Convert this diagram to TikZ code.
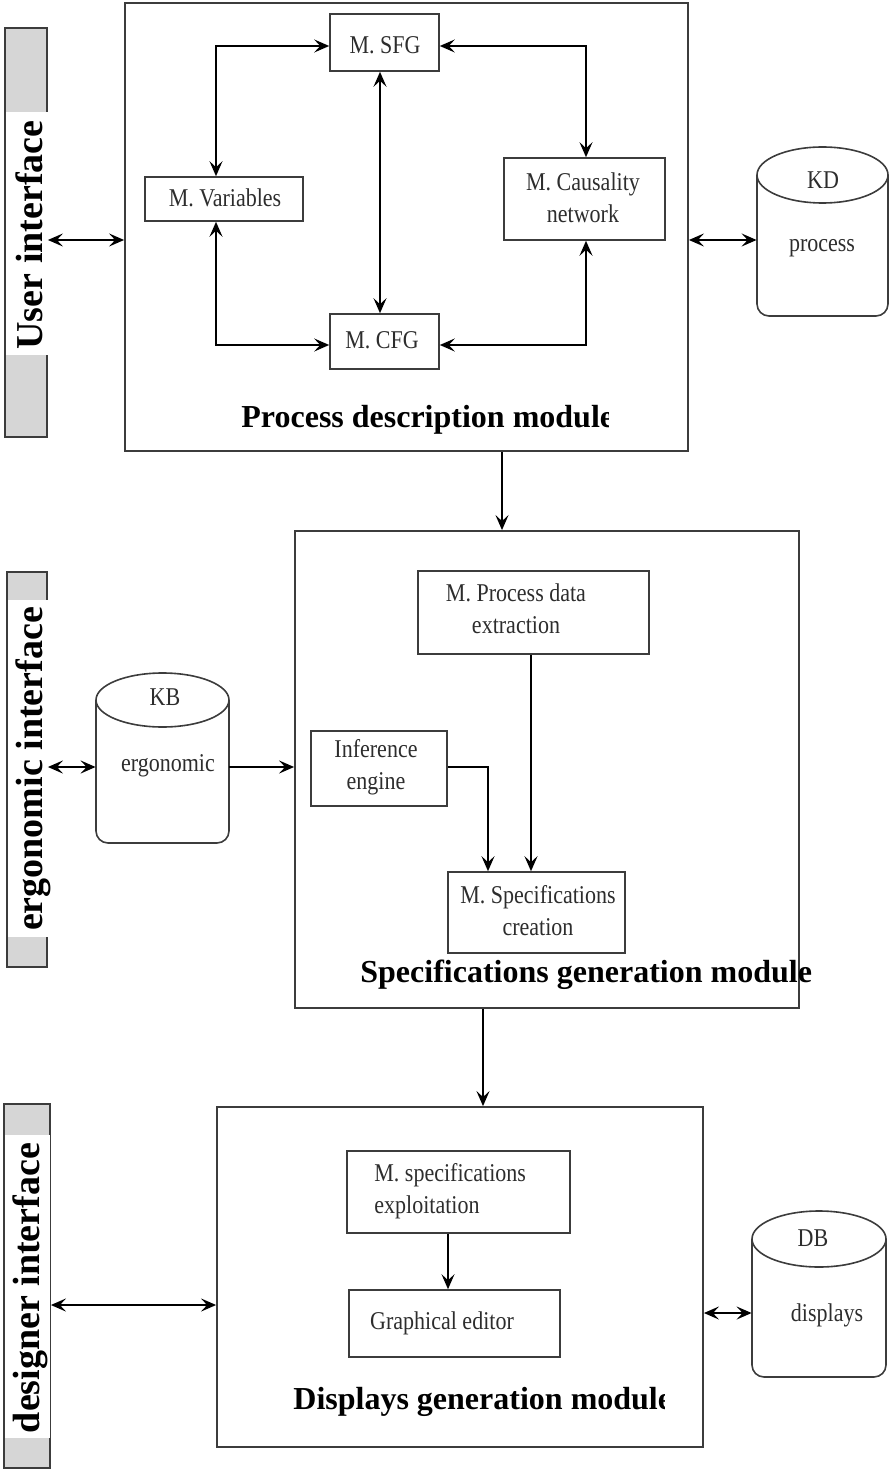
\documentclass[tikz,border=0pt]{standalone}
\usepackage{fontspec}
\setmainfont{Liberation Serif}
\newfontfamily\condfont{Liberation Serif}[FakeStretch=0.86]
\usetikzlibrary{arrows.meta,fit,calc}
\definecolor{boxc}{RGB}{60,60,60}
\definecolor{bargray}{RGB}{214,214,214}
\definecolor{txtc}{RGB}{45,45,45}
\tikzset{
  >={Stealth[length=7.5pt,width=6.5pt,inset=3pt]},
  box/.style={draw=boxc, line width=0.8pt, inner sep=0pt},
  modbox/.style={draw=boxc, line width=0.9pt, inner sep=0pt},
  cylbox/.style={inner sep=0pt},
  cylline/.style={draw=boxc, line width=0.8pt},
  barbox/.style={draw=boxc, line width=0.9pt, fill=bargray, inner sep=0pt},
  txt/.style={font=\condfont\fontsize{12.8pt}{16pt}\selectfont, align=center, inner sep=0pt, text=txtc},
  title/.style={font=\bfseries\fontsize{16pt}{18pt}\selectfont, inner sep=0pt, anchor=west},
  side/.style={font=\bfseries\fontsize{19pt}{19pt}\selectfont, rotate=90, inner sep=0pt},
  wire/.style={draw=black, line width=0.9pt},
  wirethick/.style={draw=black, line width=1.4pt},
  wirethin/.style={draw=black, line width=0.7pt},
}
\begin{document}
\begin{tikzpicture}[x=0.5pt, y=-0.5pt]
\useasboundingbox (0,0) rectangle (890,1470);

% ---------- side bars ----------
\node[barbox, fit={(5,28) (47,437)}] (ui) {};
\fill[white] (6,112) rectangle (48.5,355);
\node[side] (uiT) at (29,235) {User interface};

\node[barbox, fit={(7,572) (47,967)}] (eb) {};
\fill[white] (8,600) rectangle (48.5,937);
\node[side] (ebT) at (33,769) {ergonomic interface};

\node[barbox, fit={(4,1104) (50,1468)}] (dbb) {};
\fill[white] (5,1135) rectangle (49.5,1438);
\node[side] (dbbT) at (30,1288) {designer interface};

% ---------- Process description module ----------
\node[modbox, fit={(125,3) (688,451)}] (pdm) {};
\node[box, fit={(330,14) (439,71)}] (sfg) {};
\node[txt] (sfgT) at (385,45) {M. SFG};
\node[box, fit={(145,177) (303,221)}] (var) {};
\node[txt] (varT) at (225,198) {M. Variables};
\node[box, fit={(330,314) (439,369)}] (cfg) {};
\node[txt] (cfgT) at (382,340) {M. CFG};
\node[box, fit={(504,158) (665,240)}] (cau) {};
\node[txt] (cauT) at (583,198) {M. Causality\\network};
\begin{scope}
  \clip (230,390) rectangle (608,450);
  \node[title] (pdmT) at (241,420) {Process description module};
\end{scope}

% KD cylinder
\node[cylbox, fit={(757,147) (888,316)}] (kd) {};
\draw[cylline, rounded corners=6pt] (757,175) -- (757,316) -- (888,316) -- (888,175);
\draw[cylline] (822.5,175) ellipse [x radius=65.5, y radius=28];
\node[txt] (kdT) at (823,180) {KD};
\node[txt] (kdP) at (822,248) {process};

% connectors top module
\draw[wire, <->] (var.north -| 216,0) |- (sfg.west |- 0,46);
\draw[wirethick, <->] (var.south -| 216,0) |- (cfg.west |- 0,345);
\draw[wire, <->] (sfg.south -| 380,0) -- (cfg.north -| 380,0);
\draw[wire, <->] (sfg.east |- 0,46) -| (cau.north -| 586,0);
\draw[wirethick, <->] (cau.south -| 586,0) |- (cfg.east |- 0,345);
\draw[wire, <->] (ui.east |- 0,240) -- (pdm.west |- 0,240);
\draw[wire, <->] (pdm.east |- 0,240) -- (kd.west |- 0,240);

% ---------- Specifications generation module ----------
\node[modbox, fit={(295,531) (799,1008)}] (sgm) {};
\node[box, fit={(418,571) (649,654)}] (pde) {};
\node[txt] (pdeT) at (516,609) {M. Process data\\extraction};
\node[box, fit={(311,731) (447,806)}] (inf) {};
\node[txt] (infT) at (376,767) {Inference\\engine};
\node[box, fit={(448,872) (625,953)}] (spc) {};
\node[txt] (spcT) at (538,911) {M. Specifications\\creation};
\node[title] (sgmT) at (360,975) {Specifications generation module};

% KB cylinder
\node[cylbox, fit={(96,673) (229,843)}] (kb) {};
\draw[cylline, rounded corners=6pt] (96,700) -- (96,843) -- (229,843) -- (229,700);
\draw[cylline] (162.5,700) ellipse [x radius=66.5, y radius=27];
\node[txt] (kbT) at (165,697) {KB};
\node[txt] (kbE) at (168,766) {ergonomic};

\draw[wire, ->] (pdm.south -| 502,0) -- (sgm.north -| 502,0);
\draw[wirethick, ->] (pde.south -| 531,0) -- (spc.north -| 531,0);
\draw[wire, ->] (inf.east |- 0,767) -| (spc.north -| 488,0);
\draw[wirethick, <->] (eb.east |- 0,767) -- (kb.west |- 0,767);
\draw[wirethick, ->] (kb.east |- 0,767) -- (sgm.west |- 0,767);

% ---------- Displays generation module ----------
\node[modbox, fit={(217,1107) (703,1447)}] (dgm) {};
\node[box, fit={(347,1151) (570,1233)}] (exp) {};
\node[txt, align=left, anchor=west] (expT) at (374,1191) {M. specifications\\exploitation};
\node[box, fit={(349,1290) (560,1357)}] (ged) {};
\node[txt] (gedT) at (442,1323) {Graphical editor};
\begin{scope}
  \clip (280,1375) rectangle (664,1430);
  \node[title] (dgmT) at (293,1402) {Displays generation module};
\end{scope}

% DB cylinder
\node[cylbox, fit={(752,1211) (886,1377)}] (dbc) {};
\draw[cylline, rounded corners=6pt] (752,1239) -- (752,1377) -- (886,1377) -- (886,1239);
\draw[cylline] (819,1239) ellipse [x radius=67, y radius=28];
\node[txt] (dbT) at (813,1238) {DB};
\node[txt] (dbD) at (827,1315) {displays};

\draw[wirethick, ->] (sgm.south -| 483,0) -- (dgm.north -| 483,0);
\draw[wirethin, ->] (exp.south -| 448,0) -- (ged.north -| 448,0);
\draw[wirethick, <->] (dbb.east |- 0,1305) -- (dgm.west |- 0,1305);
\draw[wire, <->] (dgm.east |- 0,1313) -- (dbc.west |- 0,1313);
\end{tikzpicture}
\end{document}
